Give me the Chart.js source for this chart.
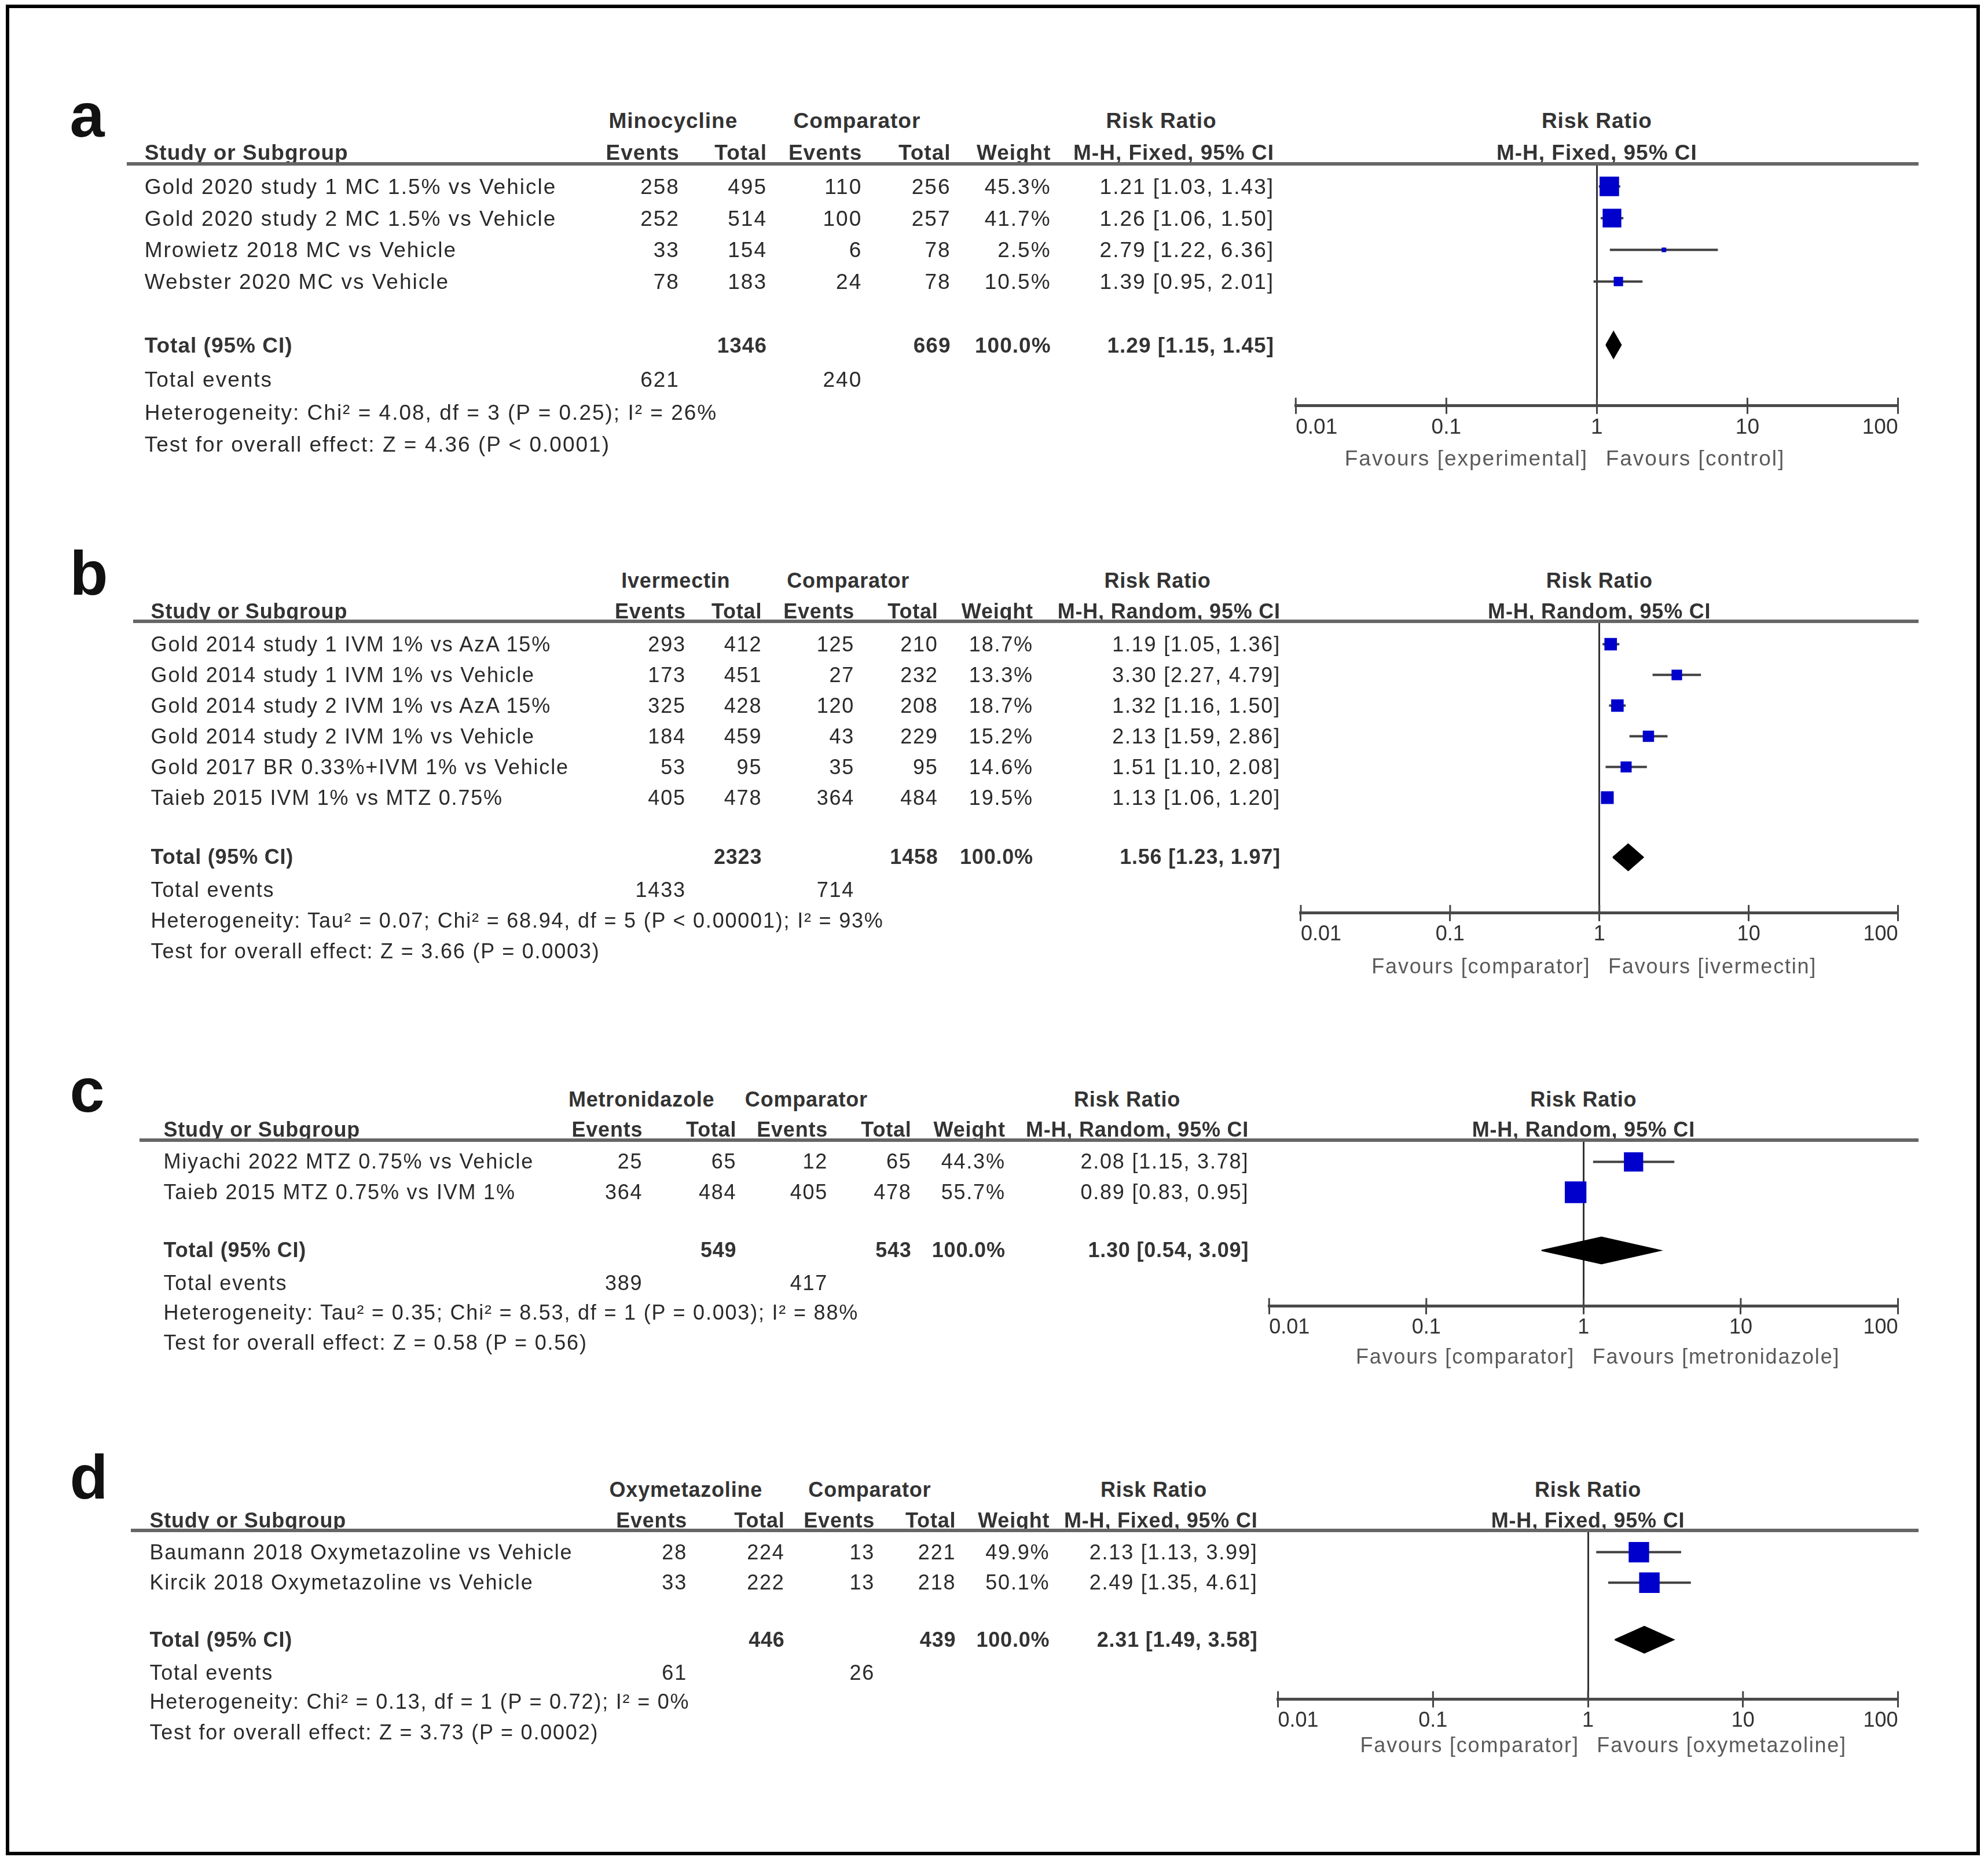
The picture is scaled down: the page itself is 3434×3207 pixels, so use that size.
<!DOCTYPE html>
<html><head><meta charset="utf-8">
<script src="https://cdn.jsdelivr.net/npm/chart.js@4.4.1/dist/chart.umd.min.js"></script>
<style>
html,body{margin:0;padding:0;background:#fff;}
#page{position:relative;width:3434px;height:3207px;overflow:hidden;background:#fff;font-family:"Liberation Sans",Arial,sans-serif;color:#2a2a2a;}
.t{position:absolute;white-space:nowrap;font-size:37px;line-height:37px;letter-spacing:2px;transform:translateY(-50%);z-index:2;}
.b{font-weight:bold;color:#333;}
.u{text-decoration:underline;text-underline-offset:5px;}
.r{transform:translate(-100%,-50%);}
.c{transform:translate(-50%,-50%);}
.fav{color:#5a5a5a;}
canvas{position:absolute;left:0;z-index:1;}
.frame{position:absolute;left:10px;top:8px;width:3398px;height:3184px;border:6px solid #000;z-index:3;}
.hline{position:absolute;height:6px;background:#666;transform:translateY(-50%);z-index:2;}
.letter{position:absolute;font-weight:bold;font-size:108px;line-height:108px;color:#111;z-index:2;}
</style>
</head>
<body>
<div id="page"><div class="frame"></div></div>
<script>
// ---------- shared axis ----------
const tickValues = [0.01, 0.1, 1, 10, 100];
const tickLabels = ["0.01", "0.1", "1", "10", "100"];

// ---------- panel a ----------
const aStudies = ["Gold 2020 study 1 MC 1.5% vs Vehicle", "Gold 2020 study 2 MC 1.5% vs Vehicle", "Mrowietz 2018 MC vs Vehicle", "Webster 2020 MC vs Vehicle"];
const aExpEvents = [258, 252, 33, 78];
const aExpTotal = [495, 514, 154, 183];
const aCtlEvents = [110, 100, 6, 24];
const aCtlTotal = [256, 257, 78, 78];
const aWeight = [45.3, 41.7, 2.5, 10.5];
const aRR = [1.21, 1.26, 2.79, 1.39];
const aLow = [1.03, 1.06, 1.22, 0.95];
const aHigh = [1.43, 1.50, 6.36, 2.01];
const aTotals = [1346, 669];
const aTotalEvents = [621, 240];
const aTotalRR = [1.29, 1.15, 1.45];
const aExpLabel = "Minocycline";
const aMethod = "M-H, Fixed, 95% CI";
const aFavours = ["Favours [experimental]", "Favours [control]"];
const aHet = "Heterogeneity: Chi\u00b2 = 4.08, df = 3 (P = 0.25); I\u00b2 = 26%";
const aTest = "Test for overall effect: Z = 4.36 (P < 0.0001)";

// ---------- panel b ----------
const bStudies = ["Gold 2014 study 1 IVM 1% vs AzA 15%", "Gold 2014 study 1 IVM 1% vs Vehicle", "Gold 2014 study 2 IVM 1% vs AzA 15%", "Gold 2014 study 2 IVM 1% vs Vehicle", "Gold 2017 BR 0.33%+IVM 1% vs Vehicle", "Taieb 2015 IVM 1% vs MTZ 0.75%"];
const bExpEvents = [293, 173, 325, 184, 53, 405];
const bExpTotal = [412, 451, 428, 459, 95, 478];
const bCtlEvents = [125, 27, 120, 43, 35, 364];
const bCtlTotal = [210, 232, 208, 229, 95, 484];
const bWeight = [18.7, 13.3, 18.7, 15.2, 14.6, 19.5];
const bRR = [1.19, 3.30, 1.32, 2.13, 1.51, 1.13];
const bLow = [1.05, 2.27, 1.16, 1.59, 1.10, 1.06];
const bHigh = [1.36, 4.79, 1.50, 2.86, 2.08, 1.20];
const bTotals = [2323, 1458];
const bTotalEvents = [1433, 714];
const bTotalRR = [1.56, 1.23, 1.97];
const bExpLabel = "Ivermectin";
const bMethod = "M-H, Random, 95% CI";
const bFavours = ["Favours [comparator]", "Favours [ivermectin]"];
const bHet = "Heterogeneity: Tau\u00b2 = 0.07; Chi\u00b2 = 68.94, df = 5 (P < 0.00001); I\u00b2 = 93%";
const bTest = "Test for overall effect: Z = 3.66 (P = 0.0003)";

// ---------- panel c ----------
const cStudies = ["Miyachi 2022 MTZ 0.75% vs Vehicle", "Taieb 2015 MTZ 0.75% vs IVM 1%"];
const cExpEvents = [25, 364];
const cExpTotal = [65, 484];
const cCtlEvents = [12, 405];
const cCtlTotal = [65, 478];
const cWeight = [44.3, 55.7];
const cRR = [2.08, 0.89];
const cLow = [1.15, 0.83];
const cHigh = [3.78, 0.95];
const cTotals = [549, 543];
const cTotalEvents = [389, 417];
const cTotalRR = [1.30, 0.54, 3.09];
const cExpLabel = "Metronidazole";
const cMethod = "M-H, Random, 95% CI";
const cFavours = ["Favours [comparator]", "Favours [metronidazole]"];
const cHet = "Heterogeneity: Tau\u00b2 = 0.35; Chi\u00b2 = 8.53, df = 1 (P = 0.003); I\u00b2 = 88%";
const cTest = "Test for overall effect: Z = 0.58 (P = 0.56)";

// ---------- panel d ----------
const dStudies = ["Baumann 2018 Oxymetazoline vs Vehicle", "Kircik 2018 Oxymetazoline vs Vehicle"];
const dExpEvents = [28, 33];
const dExpTotal = [224, 222];
const dCtlEvents = [13, 13];
const dCtlTotal = [221, 218];
const dWeight = [49.9, 50.1];
const dRR = [2.13, 2.49];
const dLow = [1.13, 1.35];
const dHigh = [3.99, 4.61];
const dTotals = [446, 439];
const dTotalEvents = [61, 26];
const dTotalRR = [2.31, 1.49, 3.58];
const dExpLabel = "Oxymetazoline";
const dMethod = "M-H, Fixed, 95% CI";
const dFavours = ["Favours [comparator]", "Favours [oxymetazoline]"];
const dHet = "Heterogeneity: Chi\u00b2 = 0.13, df = 1 (P = 0.72); I\u00b2 = 0%";
const dTest = "Test for overall effect: Z = 3.73 (P = 0.0002)";

// ---------- assembled panel data ----------
const panels = [
  {letter:"a", studies:aStudies, expEvents:aExpEvents, expTotal:aExpTotal, ctlEvents:aCtlEvents, ctlTotal:aCtlTotal, weight:aWeight, rr:aRR, low:aLow, high:aHigh, totals:aTotals, totalEvents:aTotalEvents, totalRR:aTotalRR, expLabel:aExpLabel, method:aMethod, favours:aFavours, het:aHet, test:aTest},
  {letter:"b", studies:bStudies, expEvents:bExpEvents, expTotal:bExpTotal, ctlEvents:bCtlEvents, ctlTotal:bCtlTotal, weight:bWeight, rr:bRR, low:bLow, high:bHigh, totals:bTotals, totalEvents:bTotalEvents, totalRR:bTotalRR, expLabel:bExpLabel, method:bMethod, favours:bFavours, het:bHet, test:bTest},
  {letter:"c", studies:cStudies, expEvents:cExpEvents, expTotal:cExpTotal, ctlEvents:cCtlEvents, ctlTotal:cCtlTotal, weight:cWeight, rr:cRR, low:cLow, high:cHigh, totals:cTotals, totalEvents:cTotalEvents, totalRR:cTotalRR, expLabel:cExpLabel, method:cMethod, favours:cFavours, het:cHet, test:cTest},
  {letter:"d", studies:dStudies, expEvents:dExpEvents, expTotal:dExpTotal, ctlEvents:dCtlEvents, ctlTotal:dCtlTotal, weight:dWeight, rr:dRR, low:dLow, high:dHigh, totals:dTotals, totalEvents:dTotalEvents, totalRR:dTotalRR, expLabel:dExpLabel, method:dMethod, favours:dFavours, het:dHet, test:dTest}
];

// ---------- layout (reference coordinates at 1568px width, scaled) ----------
const S = 3434 / 1568;
const P = v => v * S;
const FONT = '"Liberation Sans", Arial, sans-serif';
const layouts = [
  {fs:37, ls:2, lsb:1, letterX:55, letterBase:108, groupY:95, subY:120, lineY:129, lineX0:100, row0:147, step:25, totalY:272, evY:299, hetY:325, testY:350, nameX:114, cols:[536,605,680,750,829,1005], groupCx:[531,676,916], tick0:1022, tick100:1497, axisY:320, favY:361},
  {fs:36, ls:1.8, lsb:0.8, letterX:55, letterBase:469, groupY:458, subY:482, lineY:490, lineX0:105, row0:508, step:24.2, totalY:676, evY:702, hetY:726, testY:750, nameX:119, cols:[541,601,674,740,815,1010], groupCx:[533,669,913], tick0:1026, tick100:1497, axisY:720, favY:762},
  {fs:36, ls:1.8, lsb:0.8, letterX:55, letterBase:877, groupY:867, subY:891, lineY:899, lineX0:110, row0:916, step:24, totalY:986, evY:1012, hetY:1035, testY:1059, nameX:129, cols:[507,581,653,719,793,985], groupCx:[506,636,889], tick0:1001, tick100:1497, axisY:1030, favY:1070},
  {fs:36, ls:1.8, lsb:0.8, letterX:55, letterBase:1182, groupY:1175, subY:1199, lineY:1207, lineX0:103, row0:1224, step:24, totalY:1293, evY:1319, hetY:1342, testY:1366, nameX:118, cols:[542,619,690,754,828,992], groupCx:[541,686,910], tick0:1008, tick100:1497, axisY:1340, favY:1376}
];
const LINE_RIGHT = 1513;
const SQUARE_K = 5.0;

const page = document.getElementById('page');
let CUR = layouts[0];
function txt(x, y, s, cls) {
  const d = document.createElement('div');
  d.className = 't ' + (cls || '');
  d.style.left = P(x) + 'px';
  d.style.top = P(y) + 'px';
  d.style.fontSize = CUR.fs + 'px';
  d.style.lineHeight = CUR.fs + 'px';
  d.style.letterSpacing = ((cls || '').split(' ').includes('b') ? CUR.lsb : CUR.ls) + 'px';
  d.textContent = s;
  page.appendChild(d);
  return d;
}
const fmtRR = (r, l, h) => r.toFixed(2) + ' [' + l.toFixed(2) + ', ' + h.toFixed(2) + ']';

const upTicks = {
  id: 'upTicks',
  afterDraw(chart) {
    const s = chart.scales.x, ctx = chart.ctx;
    ctx.save();
    ctx.strokeStyle = '#444';
    ctx.lineWidth = 3;
    s.ticks.forEach(t => {
      const x = s.getPixelForValue(t.value);
      ctx.beginPath();
      ctx.moveTo(x, s.top);
      ctx.lineTo(x, s.top - 14);
      ctx.stroke();
    });
    ctx.restore();
  }
};

function buildPanel(d, L) {
  CUR = L;
  // panel letter
  const lt = document.createElement('div');
  lt.className = 'letter';
  lt.textContent = d.letter;
  lt.style.left = P(L.letterX) + 'px';
  lt.style.top = (P(L.letterBase) - 0.8465 * 108) + 'px';
  page.appendChild(lt);

  const x1 = (L.tick0 + L.tick100) / 2;
  // group headers
  txt(L.groupCx[0], L.groupY, d.expLabel, 'b c');
  txt(L.groupCx[1], L.groupY, 'Comparator', 'b c');
  txt(L.groupCx[2], L.groupY, 'Risk Ratio', 'b c');
  txt(x1, L.groupY, 'Risk Ratio', 'b c');
  // sub headers
  txt(L.nameX, L.subY, 'Study or Subgroup', 'b u');
  ['Events', 'Total', 'Events', 'Total', 'Weight', d.method].forEach((s, i) => txt(L.cols[i], L.subY, s, 'b r'));
  txt(x1, L.subY, d.method, 'b c');
  // header rule
  const hl = document.createElement('div');
  hl.className = 'hline';
  hl.style.left = P(L.lineX0) + 'px';
  hl.style.width = P(LINE_RIGHT - L.lineX0) + 'px';
  hl.style.top = P(L.lineY) + 'px';
  page.appendChild(hl);
  // study rows
  d.studies.forEach((name, i) => {
    const y = L.row0 + i * L.step;
    txt(L.nameX, y, name);
    const vals = [d.expEvents[i], d.expTotal[i], d.ctlEvents[i], d.ctlTotal[i], d.weight[i].toFixed(1) + '%', fmtRR(d.rr[i], d.low[i], d.high[i])];
    vals.forEach((v, k) => txt(L.cols[k], y, String(v), 'r'));
  });
  // totals
  txt(L.nameX, L.totalY, 'Total (95% CI)', 'b');
  txt(L.cols[1], L.totalY, String(d.totals[0]), 'b r');
  txt(L.cols[3], L.totalY, String(d.totals[1]), 'b r');
  txt(L.cols[4], L.totalY, '100.0%', 'b r');
  txt(L.cols[5], L.totalY, fmtRR(d.totalRR[0], d.totalRR[1], d.totalRR[2]), 'b r');
  txt(L.nameX, L.evY, 'Total events');
  txt(L.cols[0], L.evY, String(d.totalEvents[0]), 'r');
  txt(L.cols[2], L.evY, String(d.totalEvents[1]), 'r');
  txt(L.nameX, L.hetY, d.het);
  txt(L.nameX, L.testY, d.test);
  // favours labels
  txt(x1 - 7, L.favY, d.favours[0], 'r fav');
  txt(x1 + 7, L.favY, d.favours[1], 'fav');

  // ---- forest plot (Chart.js) ----
  const top = Math.round(P(L.lineY - 12));
  const bottom = Math.round(P(L.favY + 22));
  const height = bottom - top;
  const cv = document.createElement('canvas');
  cv.width = 3434; cv.height = height;
  cv.style.top = top + 'px';
  cv.style.width = '3434px'; cv.style.height = height + 'px';
  page.appendChild(cv);

  const rowPx = P(L.step);
  const half = 23 / rowPx;
  const ti = (L.totalY - L.row0) / L.step;
  const datasets = [];
  datasets.push({
    label: 'total',
    data: [{x: d.totalRR[1], y: ti}, {x: d.totalRR[0], y: ti - half}, {x: d.totalRR[2], y: ti}, {x: d.totalRR[0], y: ti + half}, {x: d.totalRR[1], y: ti}],
    showLine: true, fill: 'shape', backgroundColor: '#000', borderColor: '#000', borderWidth: 2,
    pointRadius: 0, tension: 0, order: 0
  });
  datasets.push({
    label: 'studies',
    data: d.rr.map((r, i) => ({x: r, y: i})),
    pointStyle: 'rect',
    pointRadius: d.weight.map(w => SQUARE_K * Math.sqrt(w) / Math.SQRT2),
    pointBackgroundColor: '#0000cc', pointBorderWidth: 0, pointBorderColor: '#0000cc',
    showLine: false, order: 0
  });
  d.rr.forEach((r, i) => {
    datasets.push({
      label: 'ci' + i,
      data: [{x: d.low[i], y: i}, {x: d.high[i], y: i}],
      showLine: true, borderColor: '#3f3f3f', borderWidth: 4, pointRadius: 0, order: 1
    });
  });

  new Chart(cv, {
    type: 'scatter',
    data: {datasets},
    options: {
      responsive: false, animation: false, devicePixelRatio: 1, events: [],
      layout: {padding: {left: P(L.tick0), right: 3434 - P(L.tick100), top: P(L.lineY) - top, bottom: 0}},
      plugins: {legend: {display: false}, tooltip: {enabled: false}},
      scales: {
        x: {
          type: 'logarithmic', position: 'bottom', min: 0.01, max: 100,
          afterBuildTicks: s => { s.ticks = tickValues.map(v => ({value: v})); },
          afterFit: s => { s.height = bottom - P(L.axisY); },
          ticks: {
            align: 'inner', autoSkip: false, maxRotation: 0, minRotation: 0, padding: 2,
            color: '#333', font: {family: FONT, size: L.fs},
            callback: (v) => { const k = tickValues.indexOf(v); return k >= 0 ? tickLabels[k] : ''; }
          },
          grid: {
            display: true, drawOnChartArea: true, drawTicks: true, tickLength: 14, tickWidth: 3, tickColor: '#444',
            lineWidth: 3,
            color: c => (c.tick && c.tick.value === 1) ? '#333' : 'rgba(0,0,0,0)'
          },
          border: {display: true, color: '#4a4a4a', width: 5}
        },
        y: {type: 'linear', display: false, reverse: true, min: (L.lineY - L.row0) / L.step, max: (L.axisY - L.row0) / L.step}
      }
    },
    plugins: [upTicks]
  });
}

panels.forEach((d, i) => buildPanel(d, layouts[i]));
</script>
</body></html>
